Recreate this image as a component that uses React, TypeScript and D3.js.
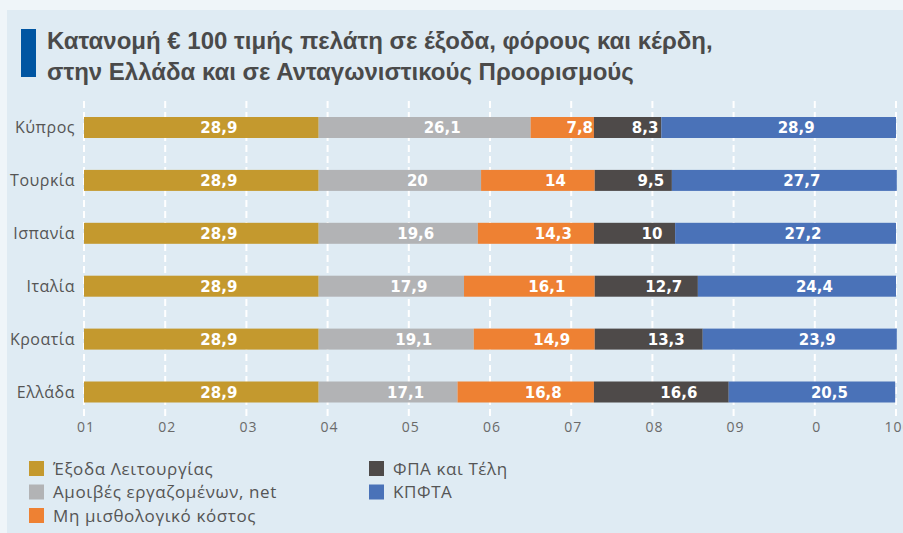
import React from "react";
import * as d3 from "d3";

const countries = ["Κύπρος", "Τουρκία", "Ισπανία", "Ιταλία", "Κροατία", "Ελλάδα"];
const seriesNames = [
  "Έξοδα Λειτουργίας",
  "Αμοιβές εργαζομένων, net",
  "Μη μισθολογικό κόστος",
  "ΦΠΑ και Τέλη",
  "ΚΠΦΤΑ",
];
const operating = [28.9, 28.9, 28.9, 28.9, 28.9, 28.9];
const wages = [26.1, 20, 19.6, 17.9, 19.1, 17.1];
const nonWage = [7.8, 14, 14.3, 16.1, 14.9, 16.8];
const vat = [8.3, 9.5, 10, 12.7, 13.3, 16.6];
const profit = [28.9, 27.7, 27.2, 24.4, 23.9, 20.5];
const tickValues = [0, 10, 20, 30, 40, 50, 60, 70, 80, 90, 100];
const tickLabels = ["01", "02", "03", "04", "05", "06", "07", "08", "09", "0", "100"];
const titleLines = [
  "Κατανομή € 100 τιμής πελάτη σε έξοδα, φόρους και κέρδη,",
  "στην Ελλάδα και σε Ανταγωνιστικούς Προορισμούς",
];

const colors = ["#c4992e", "#b2b3b5", "#ee8133", "#4e4a49", "#4a72b8"];
const series = [operating, wages, nonWage, vat, profit];

const fmt = (v: number) => String(v).replace(".", ",");

export default function App() {
  const W = 903;
  const H = 533;
  const x = d3.scaleLinear().domain([0, 100]).range([84, 896]);
  const y = d3.scalePoint<string>().domain(countries).range([127.5, 392]);
  const barH = 21;

  const stacked = countries.map((c, i) => {
    let acc = 0;
    return series.map((s, k) => {
      const x0 = acc;
      acc += s[i];
      return { country: c, k, v: s[i], x0, x1: acc };
    });
  });

  const legendPos = [
    { x: 29, y: 461 },
    { x: 29, y: 484.5 },
    { x: 29, y: 508 },
    { x: 369, y: 461 },
    { x: 369, y: 484.5 },
  ];

  return (
    <svg
      width={W}
      height={H}
      style={{ position: "fixed", left: 0, top: 0, display: "block" }}
    >
      <rect x={0} y={0} width={W} height={H} fill="#eff5f9" />
      <rect x={7} y={10} width={W - 7} height={H - 10} fill="#dfebf3" />
      <rect x={21} y={29} width={15} height={48} fill="#0055a2" />
      {titleLines.map((t, i) => (
        <text
          key={i}
          x={47}
          y={49 + i * 31}
          fontFamily="Liberation Sans, Arial, sans-serif"
          fontWeight="bold"
          fontSize={24}
          fill="#4a4a4a"
        >
          {t}
        </text>
      ))}

      {tickValues.map((t, i) => (
        <g key={t}>
          <line
            x1={x(t)}
            x2={x(t)}
            y1={101}
            y2={418}
            stroke="#ffffff"
            strokeWidth={2}
            strokeDasharray="7,4"
          />
          <text
            x={x(t) + 2}
            y={432}
            textAnchor="middle"
            fontFamily="Open Sans, sans-serif"
            fontSize={14}
            letterSpacing={1}
            fill="#6a6a6a"
          >
            {tickLabels[i]}
          </text>
        </g>
      ))}

      {stacked.map((row, i) => (
        <g key={countries[i]}>
          <text
            x={75}
            y={(y(countries[i]) as number) + 5.5}
            textAnchor="end"
            fontFamily="Open Sans, sans-serif"
            fontSize={16}
            letterSpacing={0.5}
            fill="#555555"
          >
            {countries[i]}
          </text>
          {row.map((seg) => (
            <rect
              key={seg.k}
              x={x(seg.x0)}
              y={(y(seg.country) as number) - barH / 2}
              width={x(seg.x1) - x(seg.x0)}
              height={barH}
              fill={colors[seg.k]}
            />
          ))}
          {row.map((seg) => (
            <text
              key={"t" + seg.k}
              x={(x(seg.x0) + x(seg.x1)) / 2 + 17.5}
              y={(y(seg.country) as number) + 5.5}
              textAnchor="middle"
              fontFamily="DejaVu Sans, sans-serif"
              fontWeight="bold"
              fontSize={15}
              fill="#ffffff"
            >
              {fmt(seg.v)}
            </text>
          ))}
        </g>
      ))}

      {seriesNames.map((n, k) => (
        <g key={n}>
          <rect
            x={legendPos[k].x}
            y={legendPos[k].y}
            width={15}
            height={15}
            fill={colors[k]}
          />
          <text
            x={legendPos[k].x + 24}
            y={legendPos[k].y + 13.5}
            fontFamily="Open Sans, sans-serif"
            fontSize={17}
            letterSpacing={0.6}
            fill="#555555"
          >
            {n}
          </text>
        </g>
      ))}
    </svg>
  );
}
